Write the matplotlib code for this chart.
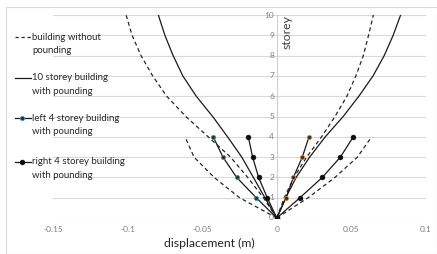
import matplotlib
matplotlib.use("Agg")
import matplotlib.pyplot as plt
from matplotlib.lines import Line2D
from matplotlib.patches import Rectangle

plt.rcParams['font.family'] = ['Lato', 'DejaVu Sans']

# ---- data ----
storeys10 = [0, 1, 2, 3, 4, 5, 6, 7, 8, 9, 10]
storeys4 = [0, 1, 2, 3, 4]

# building without pounding (dashed)
nopound10_left = [0, -0.009, -0.0195, -0.031, -0.046, -0.061, -0.0738, -0.0832, -0.091, -0.097, -0.101]
nopound10_right = [0, 0.005, 0.0115, 0.020, 0.030, 0.039, 0.047, 0.053, 0.058, 0.0615, 0.0647]
nopound4_left = [0, -0.025, -0.042, -0.0555, -0.0615]
nopound4_right = [0, 0.021, 0.039, 0.054, 0.0636]

# 10 storey building with pounding (solid)
pound10_left = [0, -0.008, -0.0157, -0.0235, -0.033, -0.043, -0.054, -0.063, -0.0695, -0.075, -0.0794]
pound10_right = [0, 0.006, 0.013, 0.022, 0.0325, 0.0445, 0.055, 0.0645, 0.072, 0.078, 0.083]

# left 4 storey building with pounding
left4_left = [0, -0.0138, -0.0269, -0.0361, -0.0426]
left4_right = [0, 0.0062, 0.0111, 0.0171, 0.0216]

# right 4 storey building with pounding
right4_left = [0, -0.0064, -0.0122, -0.0162, -0.0191]
right4_right = [0, 0.0155, 0.0305, 0.0426, 0.0513]

xticks = [-0.15, -0.1, -0.05, 0, 0.05, 0.1]
xtick_labels = ['-0.15', '-0.1', '-0.05', '0', '0.05', '0.1']
yticks = list(range(0, 11))

labels = [('building without', 'pounding'), ('10 storey building', 'with pounding'),
          ('left 4 storey building', 'with pounding'), ('right 4 storey building', 'with pounding')]

# ---- figure ----
W, H = 437, 254
fig = plt.figure(figsize=(W / 100, H / 100), dpi=100)
fig.patches.append(Rectangle((6 / W, 0), 1 - 6 / W, 1 - 7 / H, transform=fig.transFigure,
                             fill=False, edgecolor='#d9d9d9', linewidth=0.8))
ax = fig.add_axes([53 / W, 1 - 218 / H, (426 - 53) / W, (218 - 15) / H])
ax.set_xlim(-0.15, 0.1)
ax.set_ylim(0, 10)
for s in ax.spines.values():
    s.set_visible(False)
ax.set_xticks([])
ax.set_yticks([])

for y in yticks[1:]:
    ax.axhline(y, color='#d9d9d9', linewidth=0.8, zorder=0)
ax.axhline(0, color='#bfbfbf', linewidth=0.8, zorder=0)
ax.axvline(0, color='#d0d0d0', linewidth=0.8, zorder=0)

tick_color = '#7f7f7f'
for y in yticks:
    ax.annotate(str(y), xy=(0, y), xytext=(-2, 0), textcoords='offset points',
                ha='right', va='center', fontsize=6, color=tick_color)
for x, lab in zip(xticks, xtick_labels):
    ax.annotate(lab, xy=(x, 0), xytext=(0, -6), textcoords='offset points',
                ha='center', va='top', fontsize=6, color=tick_color)

ax.annotate('storey', xy=(0, 10), xytext=(3.5, 0), textcoords='offset points',
            ha='left', va='top', rotation=90, fontsize=8.8, color='#404040')
fig.text(209 / W, 1 - 243 / H, 'displacement (m)', ha='center', va='center',
         fontsize=8.8, color='#262626')

dash = (0, (3.2, 2.4))
lw = 0.9
for xs, ys in [(nopound10_left, storeys10), (nopound10_right, storeys10),
               (nopound4_left, storeys4), (nopound4_right, storeys4)]:
    ax.plot(xs, ys, color='#262626', linestyle=dash, linewidth=lw, zorder=2)
for xs in [pound10_left, pound10_right]:
    ax.plot(xs, storeys10, color='#1a1a1a', linewidth=lw, zorder=3)

teal = dict(marker='o', markersize=3.0, markerfacecolor='#1d3340', markeredgecolor='#3d9bb0',
            markeredgewidth=0.6)
orange = dict(marker='o', markersize=3.0, markerfacecolor='#3a2a1a', markeredgecolor='#d8842c',
              markeredgewidth=0.6)
black = dict(marker='o', markersize=3.4, markerfacecolor='#0d0d0d', markeredgecolor='#0d0d0d',
             markeredgewidth=0.5)
ax.plot(left4_left, storeys4, color='#1a1a1a', linewidth=lw, zorder=4, **teal)
ax.plot(left4_right, storeys4, color='#1a1a1a', linewidth=lw, zorder=4, **orange)
ax.plot(right4_left, storeys4, color='#1a1a1a', linewidth=lw, zorder=5, **black)
ax.plot(right4_right, storeys4, color='#1a1a1a', linewidth=lw, zorder=5, **black)

# ---- manual legend (handle aligned with first text line) ----
legend_rows = [37, 78, 118, 162]
styles = [dict(color='#262626', linestyle=(0, (2.6, 2.2)), linewidth=lw),
          dict(color='#1a1a1a', linewidth=lw),
          dict(color='#1a1a1a', linewidth=lw),
          dict(color='#1a1a1a', linewidth=lw)]
marker_styles = [None, None, teal, black]
for yrow, st, mk, (l1, l2) in zip(legend_rows, styles, marker_styles, labels):
    yf = 1 - yrow / H
    fig.add_artist(Line2D([15 / W, 31 / W], [yf, yf], transform=fig.transFigure, **st))
    if mk is not None:
        fig.add_artist(Line2D([22 / W], [yf], transform=fig.transFigure, linestyle='none', **mk))
    fig.text(32 / W, yf, l1, ha='left', va='center', fontsize=6.9, color='#262626')
    fig.text(32 / W, yf - 13.5 / H, l2, ha='left', va='center', fontsize=6.9, color='#262626')

fig.savefig('out.png', dpi=100)
